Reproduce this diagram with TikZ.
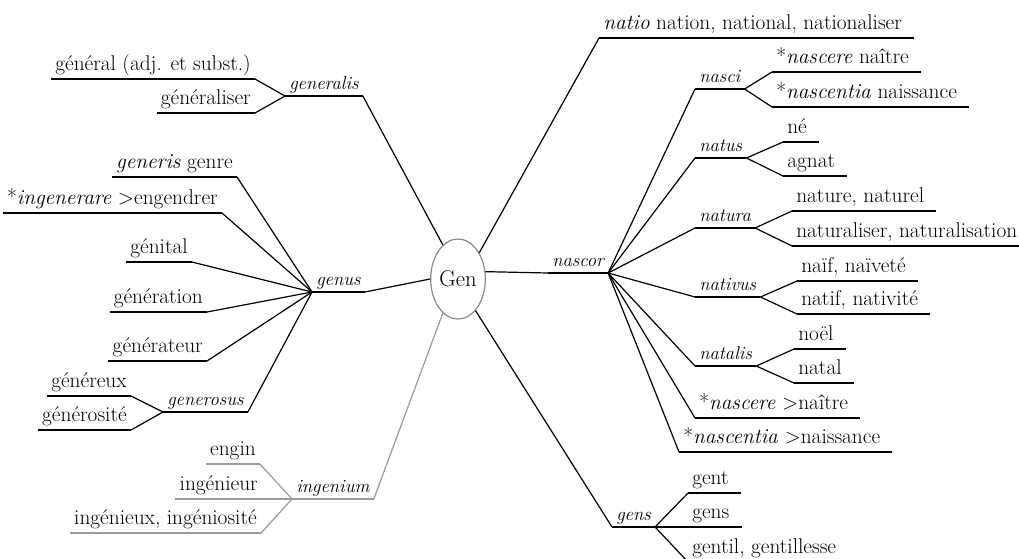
\documentclass[tikz,border=0pt]{standalone}
\usepackage{fontspec}
\usetikzlibrary{shapes.geometric}
\definecolor{rootgray}{HTML}{8A8A8A}
\definecolor{linkgray}{HTML}{9A9A9A}

\begin{document}
\begin{tikzpicture}[x=0.75pt,y=0.75pt,yscale=-1,xscale=1,
	word/.style={inner xsep=3pt,inner ysep=0pt,text depth=6pt,font=\fontsize{16}{19}\selectfont},
	wl/.style={word,anchor=south east},
	wr/.style={word,anchor=south west},
	latin/.style={inner xsep=3pt,inner ysep=0pt,text depth=5pt,anchor=south west,font=\fontsize{14}{17}\selectfont\itshape},
	root/.style={ellipse,draw=rootgray,line width=0.9pt,minimum width=41pt,minimum height=60pt,inner sep=0pt,font=\fontsize{17}{20}\selectfont},
	link/.style={line width=0.9pt},
	faint/.style={link,draw=linkgray}]
	\useasboundingbox (0,0) rectangle (1019,558);
	\clip (0,0) rectangle (1019,558);
	
	% Root
	\node[root] (gen) at (458,279) {Gen};
	
	% Text Node
	\node[latin] (generalis) at (285,96) {generalis};
	\node[wl] (general) at (255,79) {général (adj. et subst.)};
	\node[wl] (generaliser) at (255,113) {généraliser};
	% Text Node
	\node[latin] (genus) at (312,292) {genus};
	\node[wl] (generis) at (237,177) {\textit{generis} genre};
	\node[wl] (ingenerare) at (222,213) {*\textit{ingenerare} >engendrer};
	\node[wl] (genital) at (192,262) {génital};
	\node[wl] (generation) at (207,312) {génération};
	\node[wl] (generateur) at (207,361) {générateur};
	\node[latin] (generosus) at (163,412) {generosus};
	\node[wl] (genereux) at (131,396) {généreux};
	\node[wl] (generosite) at (131,430) {générosité};
	% Text Node
	\node[latin] (ingenium) at (292,499) {ingenium};
	\node[wl] (engin) at (260,464) {engin};
	\node[wl] (ingenieur) at (262,499) {ingénieur};
	\node[wl] (ingenieux) at (261,533) {ingénieux, ingéniosité};
	
	% Text Node
	\node[wr] (natio) at (599,38) {\textit{natio} nation, national, nationaliser};
	\node[latin] (nascor) at (548,273) {nascor};
	\node[latin] (nasci) at (695,89) {nasci};
	\node[wr] (nascere) at (772,72) {*\textit{nascere} naître};
	\node[wr] (nascentia) at (772,107) {*\textit{nascentia} naissance};
	\node[latin] (natus) at (695,158) {natus};
	\node[wr] (ne) at (783,142) {né};
	\node[wr] (agnat) at (783,176) {agnat};
	\node[latin] (natura) at (695,228) {natura};
	\node[wr] (nature) at (792,211) {nature, naturel};
	\node[wr] (naturaliser) at (792,246) {naturaliser, naturalisation};
	\node[latin] (nativus) at (695,297) {nativus};
	\node[wr] (naif) at (797,281) {naïf, naïveté};
	\node[wr] (natif) at (797,314) {natif, nativité};
	\node[latin] (natalis) at (695,366) {natalis};
	\node[wr] (noel) at (794,349) {noël};
	\node[wr] (natal) at (794,383) {natal};
	\node[wr] (naitre) at (695,418) {*\textit{nascere} >naître};
	\node[wr] (naissance) at (679,452) {*\textit{nascentia} >naissance};
	% Text Node
	\node[latin] (gens) at (612,527) {gens};
	\node[wr] (gent) at (688,493) {gent};
	\node[wr] (gensfr) at (688,527) {gens};
	\node[wr] (gentil) at (688,562) {gentil, gentillesse};
	
	% Underlines
	\foreach \w in {generalis,general,generaliser,genus,generis,ingenerare,genital,generation,generateur,generosus,genereux,generosite,nascor,nasci,natus,natura,nativus,natalis,gens}
	\draw[link] (\w.south west) -- (\w.south east);
	\foreach \w in {natio,nascere,nascentia,ne,agnat,nature,naturaliser,naif,natif,noel,natal,naitre,naissance,gent,gensfr,gentil}
	\draw[link] (\w.south west) -- ([xshift=6pt]\w.south east);
	\foreach \w in {ingenium,engin,ingenieur,ingenieux}
	\draw[faint] (\w.south west) -- (\w.south east);
	
	% Connection
	\draw[link] (generalis.south east) -- (gen.114);
	\draw[link] (general.south east) -- (generalis.south west) -- (generaliser.south east);
	% Connection
	\draw[link] (genus.south east) -- (gen.180);
	\foreach \w in {generis,ingenerare,genital,generation,generateur}
	\draw[link] (\w.south east) -- (genus.south west);
	\draw[link] (generosus.south east) -- (genus.south west);
	\draw[link] (genereux.south east) -- (generosus.south west) -- (generosite.south east);
	% Connection
	\draw[faint] (ingenium.south east) -- (gen.246);
	\draw[faint] (engin.south east) -- (ingenium.south west) -- (ingenieux.south east);
	\draw[faint] (ingenieur.south east) -- (ingenium.south west);
	% Connection
	\draw[link] (gen.51) -- (natio.south west);
	\draw[link] (gen.15) -- (nascor.south west);
	\foreach \w in {nasci,natus,natura,nativus,natalis,naitre,naissance}
	\draw[link] (nascor.south east) -- (\w.south west);
	\draw[link] (nascere.south west) -- (nasci.south east) -- (nascentia.south west);
	\draw[link] (ne.south west) -- (natus.south east) -- (agnat.south west);
	\draw[link] (nature.south west) -- (natura.south east) -- (naturaliser.south west);
	\draw[link] (naif.south west) -- (nativus.south east) -- (natif.south west);
	\draw[link] (noel.south west) -- (natalis.south east) -- (natal.south west);
	% Connection
	\draw[link] (gen.-61) -- (gens.south west);
	\draw[link] (gent.south west) -- (gens.south east) -- (gentil.south west);
	\draw[link] (gens.south east) -- (gensfr.south west);
	
\end{tikzpicture}
\end{document}
